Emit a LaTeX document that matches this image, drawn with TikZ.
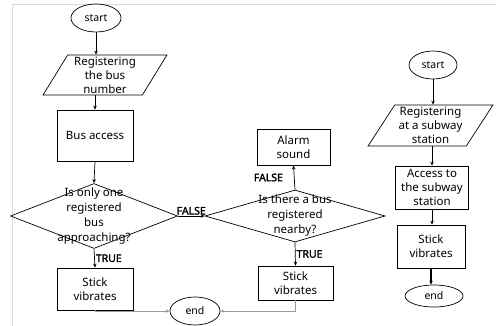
\documentclass[tikz,border=0pt]{standalone}
\usepackage{fontspec}
\setmainfont{Noto Sans}
\newfontfamily\flagfont{Noto Sans}[FakeBold=2]
\usetikzlibrary{shapes.geometric,arrows.meta}

\begin{document}
\begin{tikzpicture}[x=1pt,y=-1pt,
    terminal/.style={draw, ellipse, line width=0.7pt, inner sep=0pt,
      font=\fontsize{10.5}{12}\selectfont},
    process/.style={draw, rectangle, line width=0.7pt, inner sep=0pt,
      align=center, font=\fontsize{11.5}{14}\selectfont},
    io/.style={draw, trapezium, trapezium stretches=true, line width=0.7pt,
      inner sep=0pt, align=center, font=\fontsize{11.5}{14}\selectfont},
    decision/.style={draw, diamond, line width=0.7pt, inner sep=0pt},
    dtext/.style={align=center, inner sep=0pt, font=\fontsize{11.5}{15}\selectfont},
    flag/.style={font=\fontsize{10.5}{12}\flagfont, inner sep=1pt},
    flow/.style={line width=0.7pt, -{Stealth[length=4pt,width=3.5pt]}},
    back/.style={flow, draw=gray!80}]
  \useasboundingbox (0,0) rectangle (496,326);

  % Frame
  \draw[gray!30] (12,326) -- (12,4) -- (496,4);

  % Bus flow
  \node[terminal, minimum width=50pt, minimum height=28pt] (start1) at (96,18) {start};
  \node[io, trapezium left angle=61, trapezium right angle=119,
        minimum width=124pt, minimum height=40pt] (reg1) at (105,75)
        {Registering\\the bus\\number};
  \node[process, minimum width=76pt, minimum height=51pt] (bus) at (95,135.5) {Bus access};
  \node[decision, minimum width=167pt, minimum height=65pt] (d1) at (94,216) {};
  \node[dtext] (q1) at (d1) {Is only one\\registered\\bus\\approaching?};
  \node[process, minimum width=76pt, minimum height=42pt] (stick1) at (95,289) {Stick\\vibrates};
  \node[terminal, minimum width=50pt, minimum height=28pt] (end1) at (195,311) {end};

  % Nearby check
  \node[decision, minimum width=180pt, minimum height=52pt] (d2) at (295,216) {};
  \node[dtext] (q2) at (d2) {Is there a bus\\registered\\nearby?};
  \node[process, minimum width=73pt, minimum height=36pt] (alarm) at (293.5,147) {Alarm\\sound};
  \node[process, minimum width=75pt, minimum height=34pt] (stick2) at (295.5,283) {Stick\\vibrates};

  % Subway flow
  \node[terminal, minimum width=48pt, minimum height=28pt] (start2) at (433,65) {start};
  \node[io, trapezium left angle=57, trapezium right angle=123,
        minimum width=125pt, minimum height=41pt] (reg2) at (430.5,125.5)
        {Registering\\at a subway\\station};
  \node[process, minimum width=73pt, minimum height=43pt] (access) at (432,187.5)
        {Access to\\the subway\\station};
  \node[process, minimum width=68pt, minimum height=43pt] (stick3) at (431,246.5) {Stick\\vibrates};
  \node[terminal, minimum width=58pt, minimum height=22pt] (end2) at (434,296) {end};

  % Connectors
  \draw[flow] (start1.south) -- (start1.south |- reg1.north);
  \draw[flow] (bus |- reg1.south) -- (bus.north);
  \draw[flow] (bus.south) -- (d1.north);
  \draw[flow] (d1.south) -- node[flag, right] {TRUE} (stick1.north);
  \draw[flow] (d1.east) -- node[flag, above] {FALSE} (d2.west);
  \draw[flow] (d2.north) -- node[flag, left=10pt] {FALSE} (alarm.south);
  \draw[flow] (d2.south) -- node[flag, right] {TRUE} (stick2.north);
  \draw[back] (stick1.south) |- (end1.west);
  \draw[back] (stick2.south) |- (end1.east);

  \draw[flow] (start2.south) -- (start2.south |- reg2.north);
  \draw[flow] (access |- reg2.south) -- (access.north);
  \draw[flow] (access.south) -- (access.south |- stick3.north);
  \draw[flow, line width=1.2pt] (stick3.south) -- (stick3.south |- end2.north);
\end{tikzpicture}
\end{document}
